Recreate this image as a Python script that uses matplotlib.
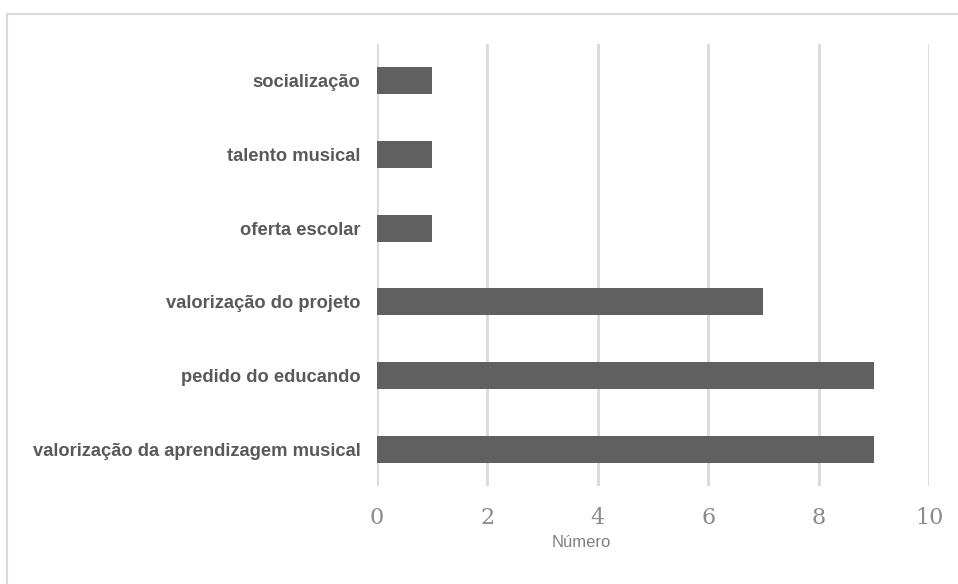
import matplotlib
matplotlib.use("Agg")
import matplotlib.pyplot as plt
from matplotlib.patches import Rectangle

categories = ["valorização da aprendizagem musical", "pedido do educando",
              "valorização do projeto", "oferta escolar", "talento musical",
              "socialização"]
values = [9, 9, 7, 1, 1, 1]
xticks = [0, 2, 4, 6, 8, 10]

W, H = 958, 584
fig = plt.figure(figsize=(W / 100, H / 100), dpi=100)
fig.patch.set_facecolor("white")

# outer frame
fig.patches.append(Rectangle((7 / W, -0.1), 1.2, (H - 14) / H + 0.1,
                             transform=fig.transFigure, fill=False,
                             edgecolor="#d9d9d9", linewidth=1.5))

x0, x1 = 377, 929
ytop, ybot = 44, 486
ax = fig.add_axes([x0 / W, (H - ybot) / H, (x1 - x0) / W, (ybot - ytop) / H])
y = list(range(len(categories)))
ax.barh(y, values, height=0.37, color="#606060", zorder=3)
ax.set_xlim(0, 10)
ax.set_ylim(-0.5, len(categories) - 0.5)
ax.set_xticks(xticks)
ax.set_xticklabels([str(t) for t in xticks], family="DejaVu Serif",
                   fontsize=16, color="#8a8a8a")
ax.set_yticks(y)
ax.set_yticklabels(categories, family="Liberation Sans", fontweight="bold",
                   fontsize=13.2, color="#595959")
ax.tick_params(axis="both", length=0)
ax.tick_params(axis="x", pad=15)
ax.tick_params(axis="y", pad=12)
for s in ax.spines.values():
    s.set_visible(False)
ax.grid(axis="x", color="#d9d9d9", linewidth=2, zorder=0)
ax.set_xlabel("Número", family="Liberation Sans", fontsize=12, color="#808080")
ax.xaxis.set_label_coords(0.371, -0.11)

fig.savefig("out.png", dpi=100)
